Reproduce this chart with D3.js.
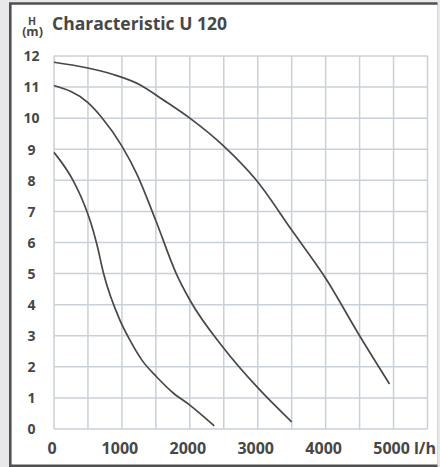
<!DOCTYPE html>
<html>
<head>
<meta charset="utf-8">
<script src="https://cdn.jsdelivr.net/npm/d3@7"></script>
<style>
html,body{margin:0;padding:0;background:#e8e8ea;}
svg{display:block;}
text{font-family:"Open Sans",sans-serif;font-weight:700;fill:#474747;}
</style>
</head>
<body>
<svg id="chart" width="440" height="467"></svg>
<script>
const title = "Characteristic U 120";
const yUnitTop = "H";
const yUnitBottom = "(m)";
const xUnit = "l/h";
const xTicks = [0, 1000, 2000, 3000, 4000, 5000];
const yTicks = [0, 1, 2, 3, 4, 5, 6, 7, 8, 9, 10, 11, 12];
const xGrid = [0, 500, 1000, 1500, 2000, 2500, 3000, 3500, 4000, 4500, 5000, 5500];

// flow (l/h), head (m)
const curveLowQ = [0, 280, 450, 540, 630, 730, 970, 1120, 1300, 1510, 1760, 2000, 2360];
const curveLowH = [8.9, 8.0, 7.2, 6.65, 5.95, 5.0, 3.5, 2.85, 2.2, 1.68, 1.15, 0.77, 0.1];
const curveMidQ = [0, 500, 700, 1000, 1220, 1500, 1800, 2000, 2500, 3000, 3500];
const curveMidH = [11.05, 10.5, 10.03, 9.1, 8.2, 6.7, 5.0, 4.15, 2.6, 1.33, 0.23];
const curveHighQ = [0, 850, 1270, 1600, 2000, 2500, 2980, 3500, 4000, 4500, 4940];
const curveHighH = [11.8, 11.42, 11.07, 10.6, 10.0, 9.1, 8.0, 6.4, 4.85, 3.0, 1.45];

const svg = d3.select("#chart");

// panel
svg.append("rect").attr("x", 10).attr("y", 3).attr("width", 428).attr("height", 462).attr("fill", "#fff");
svg.append("line").attr("x1", 437.5).attr("x2", 437.5).attr("y1", 3).attr("y2", 466).attr("stroke", "#d6d6d8").attr("stroke-width", 1);
svg.append("path").attr("d", "M437.5,3.5 H10.3 V465.7 H437.5").attr("fill", "none").attr("stroke", "#505050").attr("stroke-width", 2.6);

const x = d3.scaleLinear().domain([0, 5500]).range([54, 427.5]);
const y = d3.scaleLinear().domain([0, 12]).range([429, 56]);

// grid
const g = svg.append("g");
g.selectAll(".vg").data(xGrid).join("line")
  .attr("x1", d => x(d)).attr("x2", d => x(d))
  .attr("y1", y(0)).attr("y2", y(12))
  .attr("stroke", "#c9d0d8").attr("stroke-width", 1.5);
g.selectAll(".hg").data(yTicks).join("line")
  .attr("x1", x(0)).attr("x2", x(5500))
  .attr("y1", d => y(d)).attr("y2", d => y(d))
  .attr("stroke", "#c9d0d8").attr("stroke-width", 1.5);

// curves
const line = d3.line().x(d => x(d[0])).y(d => y(d[1])).curve(d3.curveMonotoneX);
const curves = [
  d3.zip(curveLowQ, curveLowH),
  d3.zip(curveMidQ, curveMidH),
  d3.zip(curveHighQ, curveHighH)
];
svg.selectAll(".curve").data(curves).join("path")
  .attr("d", line).attr("fill", "none")
  .attr("stroke", "#484848").attr("stroke-width", 1.7);

// y labels
svg.selectAll(".yl").data(yTicks).join("text")
  .attr("x", 31.5).attr("y", d => y(d) + 5.3)
  .attr("text-anchor", "middle").attr("font-size", 14)
  .text(d => d);

// x labels
svg.selectAll(".xl").data(xTicks).join("text")
  .attr("x", d => x(d) - 2).attr("y", 453.5)
  .attr("text-anchor", "middle").attr("font-size", 16)
  .text(d => d);
svg.append("text").attr("x", 425).attr("y", 453.5).attr("text-anchor", "middle").attr("font-size", 16).text(xUnit);

// unit (stacked H / (m))
const unit = svg.append("text").attr("text-anchor", "middle");
unit.append("tspan").attr("x", 32).attr("y", 24.5).attr("font-size", 10.5).text(yUnitTop);
unit.append("tspan").attr("x", 32.5).attr("y", 36).attr("font-size", 12.5).text(yUnitBottom);

// title
svg.append("text").attr("x", 52).attr("y", 30).attr("font-size", 17.5).text(title);
</script>
</body>
</html>
